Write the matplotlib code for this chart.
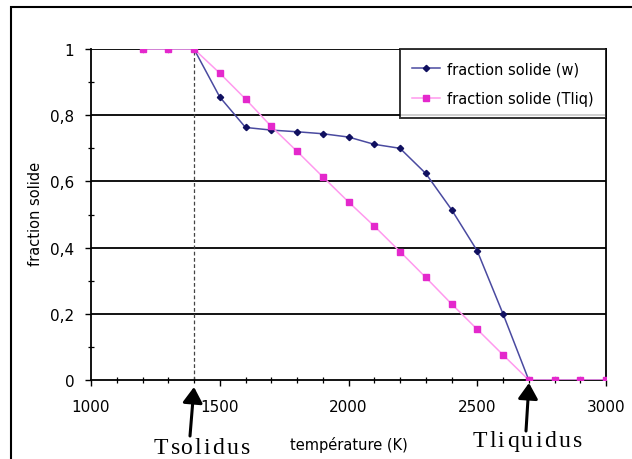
import matplotlib
matplotlib.use("Agg")
import matplotlib.pyplot as plt
from matplotlib.patches import Rectangle
from matplotlib.ticker import MultipleLocator, FuncFormatter
from matplotlib.font_manager import FontProperties

temps = [1200, 1300, 1400, 1500, 1600, 1700, 1800, 1900, 2000, 2100, 2200,
         2300, 2400, 2500, 2600, 2700, 2800, 2900, 3000]
frac_w = [1, 1, 1, 0.855, 0.763, 0.755, 0.75, 0.744, 0.734, 0.712, 0.70,
          0.624, 0.515, 0.39, 0.20, 0, 0, 0, 0]
frac_tliq = [1, 1, 1, 0.927, 0.849, 0.766, 0.691, 0.614, 0.538, 0.465, 0.388,
             0.31, 0.23, 0.153, 0.076, 0, 0, 0, 0]
t_solidus = 1400
t_liquidus = 2700
y_ticks = [0, 0.2, 0.4, 0.6, 0.8, 1]
x_ticks = [1000, 1500, 2000, 2500, 3000]

W, H = 632, 460
fig = plt.figure(figsize=(W / 100, H / 100), dpi=100)
ax = fig.add_axes([91 / W, 1 - 381 / H, (606 - 91) / W, (381 - 50) / H])

for y in y_ticks[1:]:
    ax.axhline(y, color="black", lw=1.3, zorder=1)

ax.plot([t_solidus, t_solidus], [0, 1], color="#444444", lw=0.9,
        ls=(0, (3, 2)), zorder=2)

ax.plot(temps, frac_w, color="#4a4aa0", lw=1.1, marker="D", ms=3.2,
        mfc="#101060", mec="#101060", label="fraction solide (w)", zorder=3)
ax.plot(temps, frac_tliq, color="#ff99ee", lw=1.1, marker="s", ms=3.8,
        mfc="#e428cc", mec="#e428cc", label="fraction solide (Tliq)", zorder=4)

ax.set_xlim(1000, 3000)
ax.set_ylim(0, 1)
ax.set_xticks(x_ticks)
ax.set_yticks(y_ticks)
ax.xaxis.set_minor_locator(MultipleLocator(100))
ax.yaxis.set_minor_locator(MultipleLocator(0.1))
ax.yaxis.set_major_formatter(FuncFormatter(
    lambda v, p: "0" if v == 0 else ("1" if v == 1 else f"{v:.1f}".replace(".", ","))))
ax.tick_params(axis="both", which="major", direction="out", length=4,
               width=1, labelsize=11, colors="black")
ax.tick_params(axis="x", which="major", pad=10)
ax.tick_params(axis="y", which="major", pad=8)
ax.tick_params(axis="both", which="minor", direction="inout", length=5, width=0.9)

for s in ["left", "bottom", "right"]:
    ax.spines[s].set_color("black")
    ax.spines[s].set_linewidth(1.3)
ax.spines["top"].set_visible(False)

fig.text(35 / W, 1 - 214 / H, "fraction solide", fontsize=10.5,
         rotation=90, ha="center", va="center")
fig.text(349 / W, 1 - 445 / H, "température (K)", fontsize=10.5,
         ha="center", va="center")

leg = ax.legend(loc="upper right", bbox_to_anchor=(1.0, 1.0), fontsize=10.5,
                frameon=True, fancybox=False, edgecolor="black",
                borderaxespad=0, handlelength=1.9, handletextpad=0.5,
                borderpad=0.85, labelspacing=1.0)
leg.get_frame().set_linewidth(1.4)

# spaced serif labels
serif = FontProperties(family="Liberation Serif", size=17)
renderer = fig.canvas.get_renderer()


def text_w(s):
    if not s:
        return 0.0
    w, h, d = renderer.get_text_width_height_descent(s, serif, ismath=False)
    return w


def spaced_text(s, cx, baseline, spacing=2.3):
    total = text_w(s) + spacing * (len(s) - 1)
    x0 = cx - total / 2
    for i, ch in enumerate(s):
        x = x0 + text_w(s[:i]) + spacing * i
        fig.text(x / W, 1 - baseline / H, ch, fontproperties=serif,
                 ha="left", va="baseline")


spaced_text("Tsolidus", 202, 454)
spaced_text("Tliquidus", 527, 447)

arrow_kw = dict(arrowstyle="-|>,head_width=0.6,head_length=0.95",
                color="black", lw=2.2, shrinkA=0, shrinkB=0, mutation_scale=10)
ax.annotate("", xy=(194 / W, 1 - 388 / H), xycoords="figure fraction",
            xytext=(190 / W, 1 - 437 / H), textcoords="figure fraction",
            arrowprops=arrow_kw, annotation_clip=False)
ax.annotate("", xy=(529 / W, 1 - 384 / H), xycoords="figure fraction",
            xytext=(526 / W, 1 - 432 / H), textcoords="figure fraction",
            arrowprops=arrow_kw, annotation_clip=False)

fig.patches.append(Rectangle((11 / W, -0.1), 2, 1.1 - 8 / H,
                             transform=fig.transFigure, fill=False,
                             edgecolor="black", lw=1.5))

fig.savefig("out.png", dpi=100)
